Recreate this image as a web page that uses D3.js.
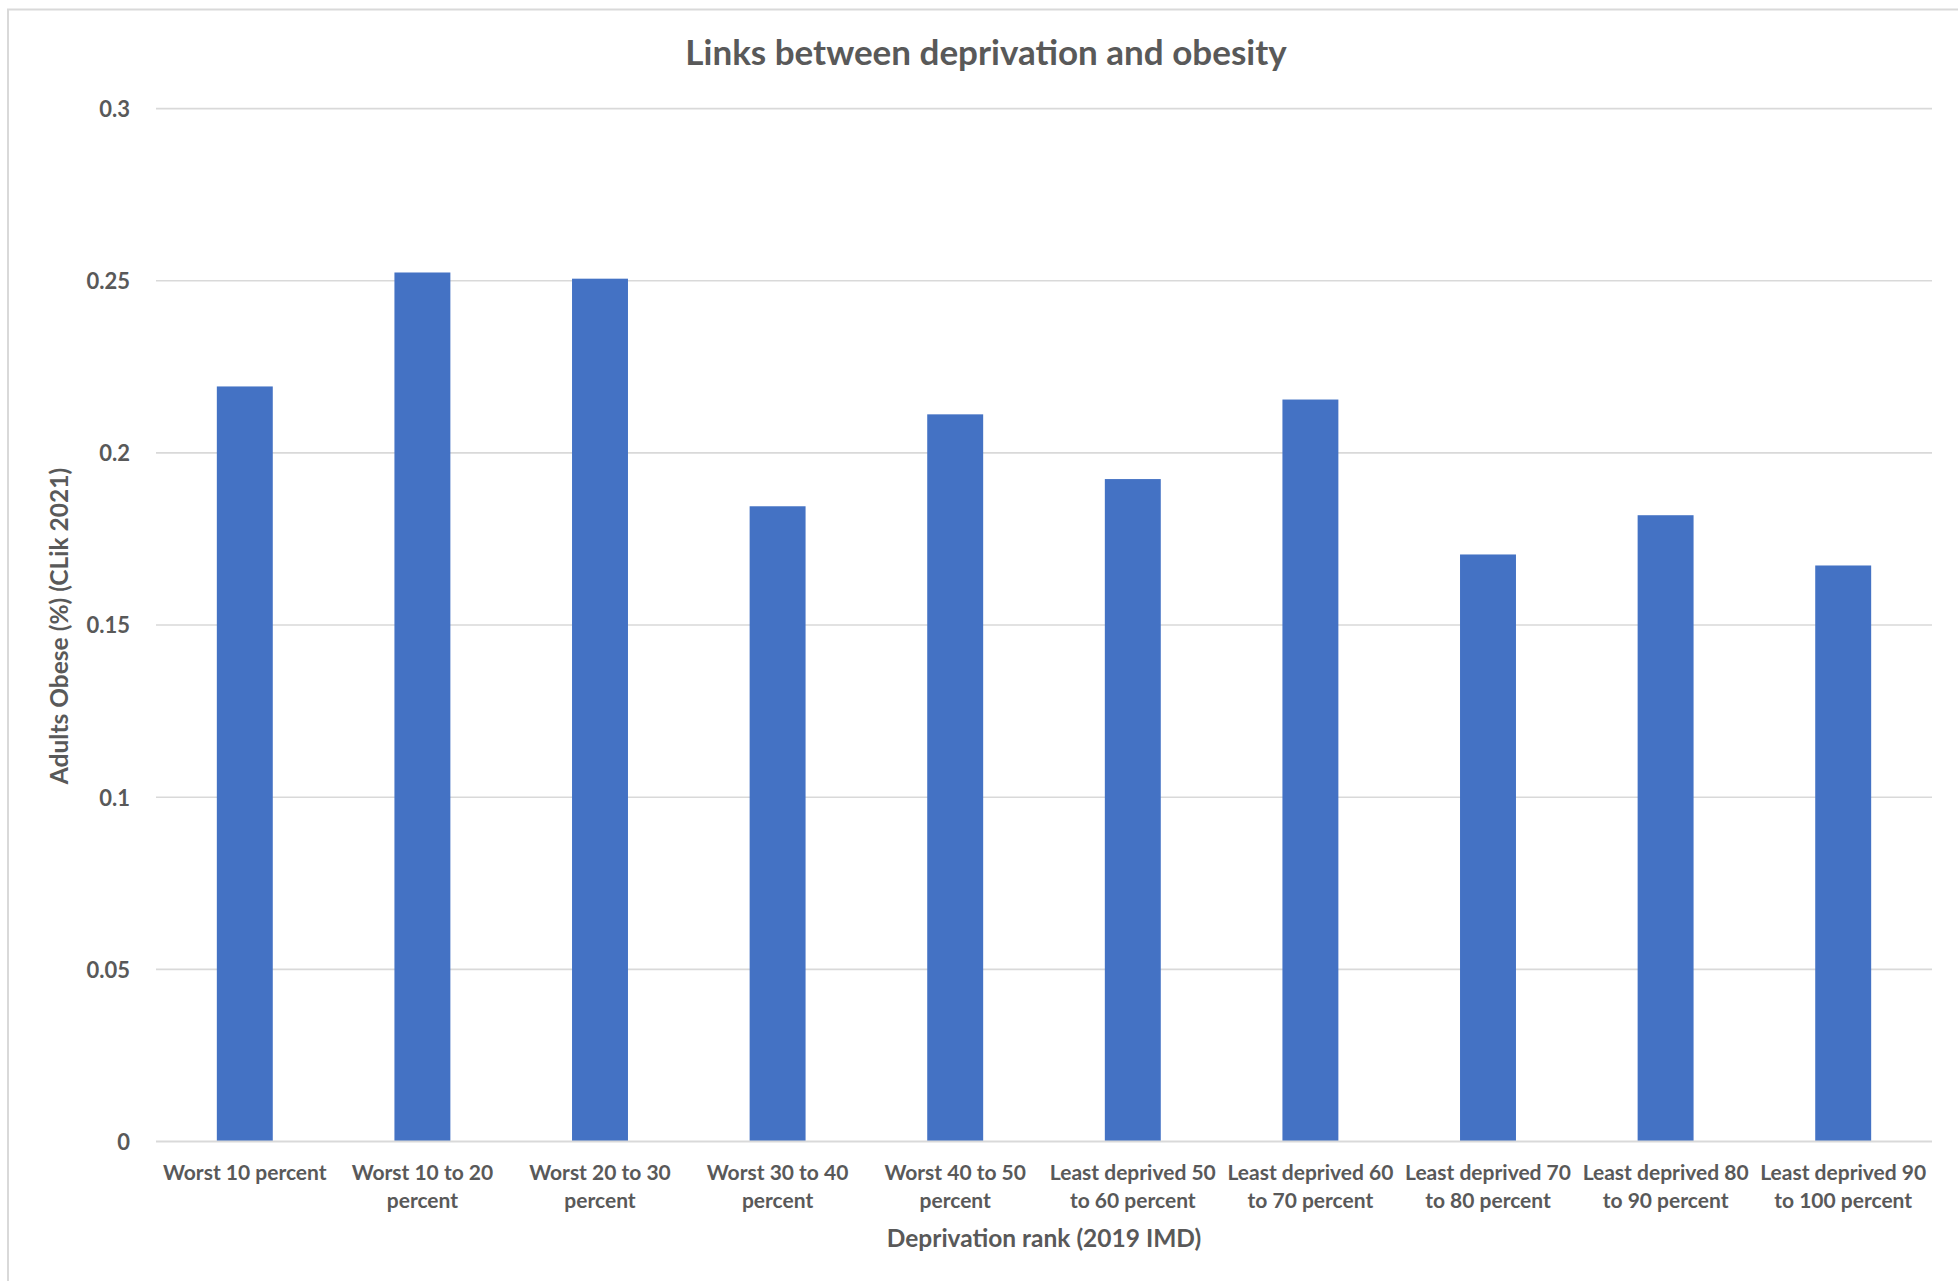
<!DOCTYPE html>
<html>
<head>
<meta charset="utf-8">
<script src="https://cdn.jsdelivr.net/npm/d3@7"></script>
<style>
  html, body { margin: 0; padding: 0; background: #fff; }
  svg { display: block; }
  text { font-family: Lato, "Open Sans", sans-serif; font-weight: 700; fill: #595959; }
</style>
</head>
<body>
<svg id="chart" width="1958" height="1281"></svg>
<script>
// Deprivation deciles (2019 IMD) and share of adults obese
const categories = [
  "Worst 10 percent",
  "Worst 10 to 20 percent",
  "Worst 20 to 30 percent",
  "Worst 30 to 40 percent",
  "Worst 40 to 50 percent",
  "Least deprived 50 to 60 percent",
  "Least deprived 60 to 70 percent",
  "Least deprived 70 to 80 percent",
  "Least deprived 80 to 90 percent",
  "Least deprived 90 to 100 percent"
];
const obeseShare = [0.2193, 0.2524, 0.2506, 0.1845, 0.2112, 0.1924, 0.2155, 0.1705, 0.1819, 0.1673];
const yTicks = [0, 0.05, 0.1, 0.15, 0.2, 0.25, 0.3];

const chartTitle = "Links between deprivation and obesity";
const xTitle = "Deprivation rank (2019 IMD)";
const yTitle = "Adults Obese (%) (CLik 2021)";

const W = 1958, H = 1281;
const plot = { left: 156, right: 1932, top: 108.6, bottom: 1141.5 };

const svg = d3.select("#chart");

// Chart-area outline
svg.append("rect")
  .attr("x", 8).attr("y", 9.5)
  .attr("width", W + 20).attr("height", H + 20)
  .attr("fill", "none")
  .attr("stroke", "#d9d9d9")
  .attr("stroke-width", 2);

const x = d3.scaleBand()
  .domain(categories)
  .range([plot.left, plot.right])
  .paddingInner(0.685)
  .paddingOuter(0.3425);

const y = d3.scaleLinear()
  .domain([0, 0.3])
  .range([plot.bottom, plot.top]);

// Horizontal gridlines
svg.append("g")
  .selectAll("line")
  .data(yTicks.filter(d => d > 0))
  .join("line")
  .attr("x1", plot.left).attr("x2", plot.right)
  .attr("y1", d => y(d)).attr("y2", d => y(d))
  .attr("stroke", "#d9d9d9")
  .attr("stroke-width", 1.6);

// Y axis labels
const yAxis = d3.axisLeft(y)
  .tickValues(yTicks)
  .tickFormat(d => d3.format("~g")(d))
  .tickSize(0)
  .tickPadding(0);

const yg = svg.append("g")
  .attr("transform", `translate(${plot.left - 26},0)`)
  .call(yAxis);
yg.select(".domain").remove();
yg.selectAll("text")
  .attr("font-size", 22)
  .attr("font-family", "Lato, sans-serif")
  .attr("fill", "#595959")
  .attr("dy", "0.36em");

// Bars
svg.append("g")
  .selectAll("rect")
  .data(categories.map((c, i) => ({ c, v: obeseShare[i] })))
  .join("rect")
  .attr("x", d => x(d.c))
  .attr("y", d => y(d.v))
  .attr("width", x.bandwidth())
  .attr("height", d => y(0) - y(d.v))
  .attr("fill", "#4472C4");

// Category axis line
svg.append("line")
  .attr("x1", plot.left).attr("x2", plot.right)
  .attr("y1", y(0)).attr("y2", y(0))
  .attr("stroke", "#d9d9d9")
  .attr("stroke-width", 2);

// Category labels, wrapped within the band step
const xAxis = d3.axisBottom(x).tickSize(0).tickPadding(0);
const xg = svg.append("g")
  .attr("transform", `translate(0,${y(0)})`)
  .call(xAxis);
xg.select(".domain").remove();

const maxLabelWidth = x.step() - 2;
xg.selectAll(".tick text")
  .attr("font-size", 21)
  .attr("font-family", "Lato, sans-serif")
  .attr("fill", "#595959")
  .each(function (d) {
    const t = d3.select(this);
    const words = d.split(" ");
    t.text(null);
    let lines = [], line = [];
    const probe = t.append("tspan");
    words.forEach(w => {
      const trial = line.concat(w).join(" ");
      probe.text(trial);
      if (probe.node().getComputedTextLength() > maxLabelWidth && line.length) {
        lines.push(line.join(" "));
        line = [w];
      } else {
        line.push(w);
      }
    });
    lines.push(line.join(" "));
    probe.remove();
    t.attr("y", 0).attr("dy", null);
    lines.forEach((l, i) => {
      t.append("tspan")
        .attr("x", 0)
        .attr("y", 38 + i * 28)
        .text(l);
    });
  });

// Titles
svg.append("text")
  .attr("x", 986).attr("y", 65)
  .attr("text-anchor", "middle")
  .attr("font-size", 35)
  .text(chartTitle);

svg.append("text")
  .attr("x", 1044).attr("y", 1247)
  .attr("text-anchor", "middle")
  .attr("font-size", 24.5)
  .text(xTitle);

svg.append("text")
  .attr("transform", `translate(68,626) rotate(-90)`)
  .attr("text-anchor", "middle")
  .attr("font-size", 24.5)
  .text(yTitle);
</script>
</body>
</html>
